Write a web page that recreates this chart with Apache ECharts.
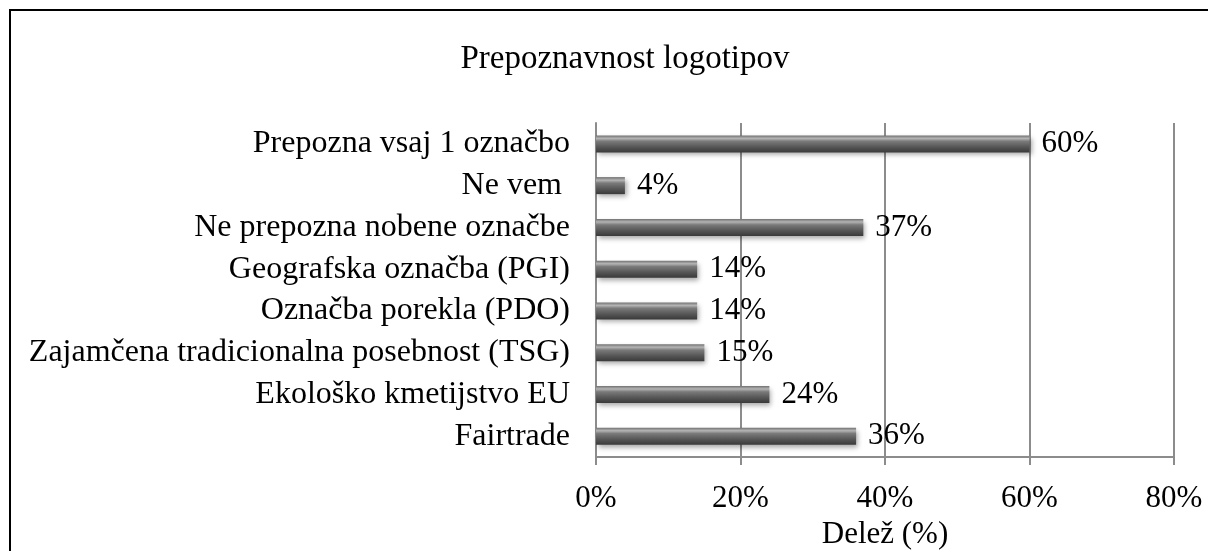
<!DOCTYPE html>
<html lang="sl">
<head>
    <meta charset="UTF-8">
    <title>Prepoznavnost logotipov</title>
    <script src="https://cdn.jsdelivr.net/npm/echarts@6/dist/echarts.min.js"></script>
    <style>
        * {
            padding: 0;
            margin: 0;
        }

        body {
            background: #fff;
        }

        #chart {
            position: absolute;
            left: 0;
            top: 0;
            width: 1208px;
            height: 551px;
        }

        .frame {
            position: absolute;
            left: 9px;
            top: 9px;
            width: 1220px;
            height: 560px;
            border: 2px solid #000;
            pointer-events: none;
        }
    </style>
</head>
<body>
    <div id="chart"></div>
    <div class="frame"></div>
<script>
    // podatki
    var categories = [
        'Prepozna vsaj 1 označbo',
        'Ne vem ',
        'Ne prepozna nobene označbe',
        'Geografska označba (PGI)',
        'Označba porekla (PDO)',
        'Zajamčena tradicionalna posebnost (TSG)',
        'Ekološko kmetijstvo EU',
        'Fairtrade'
    ];
    var shares = [60, 4, 37, 14, 14, 15, 24, 36];
    var xTicks = [0, 20, 40, 60, 80];

    var font = '"Liberation Serif", "Times New Roman", serif';

    var chart = echarts.init(document.getElementById('chart'));

    // bar gradient, dark with light top edge
    var barColor = new echarts.graphic.LinearGradient(0, 0, 0, 1, [
        { offset: 0, color: '#6e6e6e' },
        { offset: 0.18, color: '#b4b4b4' },
        { offset: 0.35, color: '#7a7a7a' },
        { offset: 0.7, color: '#555555' },
        { offset: 1, color: '#3a3a3a' }
    ]);

    chart.setOption({
        animation: false,
        backgroundColor: '#fff',
        title: {
            text: 'Prepoznavnost logotipov',
            left: 620,
            top: 38,
            textAlign: 'center',
            textStyle: {
                fontFamily: font,
                fontSize: 33,
                fontWeight: 'normal',
                color: '#000'
            }
        },
        grid: {
            left: 596,
            right: 34,
            top: 123,
            bottom: 94,
            outerBoundsMode: 'none'
        },
        xAxis: {
            type: 'value',
            min: xTicks[0],
            max: xTicks[xTicks.length - 1],
            interval: 20,
            name: 'Delež (%)',
            nameLocation: 'middle',
            nameGap: 62,
            nameTextStyle: {
                fontFamily: font,
                fontSize: 31,
                color: '#000'
            },
            axisLine: { show: true, lineStyle: { color: '#8c8c8c', width: 2 } },
            axisTick: { show: true, length: 8, lineStyle: { color: '#8c8c8c', width: 2 } },
            axisLabel: {
                margin: 26,
                fontFamily: font,
                fontSize: 31,
                color: '#000',
                formatter: '{value}%'
            },
            splitLine: { show: true, lineStyle: { color: '#8c8c8c', width: 2 } }
        },
        yAxis: {
            type: 'category',
            inverse: true,
            data: categories,
            axisLine: { show: true, lineStyle: { color: '#8c8c8c', width: 2 } },
            axisTick: { show: false },
            axisLabel: {
                interval: 0,
                margin: 26,
                fontFamily: font,
                fontSize: 32,
                color: '#000'
            }
        },
        series: [{
            type: 'bar',
            data: shares,
            barWidth: 17,
            itemStyle: {
                color: barColor,
                shadowColor: 'rgba(0,0,0,0.35)',
                shadowBlur: 5,
                shadowOffsetX: 2,
                shadowOffsetY: 3
            },
            label: {
                show: true,
                position: 'right',
                distance: 12,
                fontFamily: font,
                fontSize: 31,
                color: '#000',
                formatter: '{c}%'
            }
        }]
    });
</script>
</body>
</html>
